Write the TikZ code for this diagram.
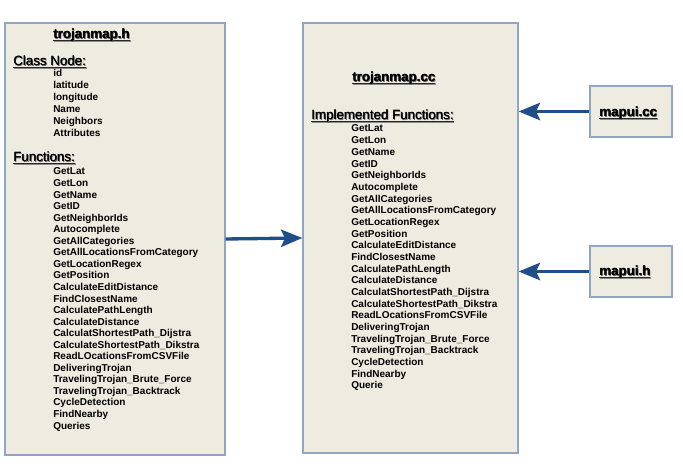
\documentclass[tikz,border=0pt]{standalone}
\usepackage{fontspec}
\setmainfont{Liberation Sans}
\usetikzlibrary{arrows.meta}
\definecolor{boxfill}{HTML}{EEEBE1}
\definecolor{boxline}{HTML}{91A6C4}
\definecolor{arrblue}{HTML}{1F4E8A}
\newlength\ulwd
\newcommand\ultxt[1]{\settowidth\ulwd{#1}%
  \makebox[0pt][l]{\hspace{0.7pt}\color{black!45}\rule[-1.9pt]{\ulwd}{0.8pt}}%
  \makebox[0pt][l]{\color{black!85}\rule[-1.4pt]{\ulwd}{0.8pt}}%
  \makebox[0pt][l]{\hspace{0.7pt}\raisebox{-0.7pt}{\color{black!60}#1}}%
  \makebox[0pt][l]{\hspace{0.25pt}#1}#1}
\begin{document}
\begin{tikzpicture}[x=0.75pt,y=-0.75pt,
  box/.style={draw=boxline,line width=1pt,fill=boxfill,inner sep=0pt},
  item/.style={anchor=base west,inner sep=0pt,font=\fontsize{7.5}{9}\selectfont\bfseries},
  heading/.style={anchor=base west,inner sep=0pt,font=\fontsize{10}{12}\selectfont},
  titletxt/.style={anchor=base west,inner sep=0pt,font=\fontsize{10}{12}\selectfont\bfseries},
  arr/.style={draw=arrblue,line width=2.5pt,-{Stealth[length=16pt,width=13pt,inset=3pt]}}]
\fill[white] (0,0) rectangle (683,473);
\useasboundingbox (0,0) rectangle (683,473);
% boxes
\node[box,minimum width=165pt,minimum height=324pt] (left) at (115,239) {};
\node[box,minimum width=161.25pt,minimum height=322.5pt] (mid) at (410.5,238) {};
\node[box,minimum width=61.5pt,minimum height=38.25pt] (cc) at (631,111.5) {};
\node[box,minimum width=61.5pt,minimum height=38.25pt] (hh) at (631,271.5) {};
% left box texts
\node[titletxt] (lt) at (53,39) {\ultxt{trojanmap.h}};
\node[heading] (lcn) at (13,66) {\ultxt{Class Node:}};
\foreach \t [count=\i] in {id,latitude,longitude,Name,Neighbors,Attributes}
  \node[item] (ln\i) at (53,{77+(\i-1)*12}) {\t};
\node[heading] (lfn) at (13,162) {\ultxt{Functions:}};
\foreach \t [count=\i] in {GetLat,GetLon,GetName,GetID,GetNeighborIds,Autocomplete,GetAllCategories,GetAllLocationsFromCategory,GetLocationRegex,GetPosition,CalculateEditDistance,FindClosestName,CalculatePathLength,CalculateDistance,CalculatShortestPath\_Dijstra,CalculateShortestPath\_Dikstra,ReadLOcationsFromCSVFile,DeliveringTrojan,TravelingTrojan\_Brute\_Force,TravelingTrojan\_Backtrack,CycleDetection,FindNearby,Queries}
  \node[item] (lf\i) at (53,{175+(\i-1)*11.55}) {\t};
% middle box texts
\node[titletxt] (mt) at (352,82) {\ultxt{trojanmap.cc}};
\node[heading] (mif) at (311,120) {\ultxt{Implemented Functions:}};
\foreach \t [count=\i] in {GetLat,GetLon,GetName,GetID,GetNeighborIds,Autocomplete,GetAllCategories,GetAllLocationsFromCategory,GetLocationRegex,GetPosition,CalculateEditDistance,FindClosestName,CalculatePathLength,CalculateDistance,CalculatShortestPath\_Dijstra,CalculateShortestPath\_Dikstra,ReadLOcationsFromCSVFile,DeliveringTrojan,TravelingTrojan\_Brute\_Force,TravelingTrojan\_Backtrack,CycleDetection,FindNearby,Querie}
  \node[item] (mf\i) at (351,{132+(\i-1)*11.68}) {\t};
% small boxes texts
\node[titletxt] (cct) at (599,117) {\ultxt{mapui.cc}};
\node[titletxt] (hht) at (599,276) {\ultxt{mapui.h}};
% arrows
\draw[arr] (left.east) -- (mid.west);
\draw[arr] (cc.west) -- (cc.west -| mid.east);
\draw[arr] (hh.west) -- (hh.west -| mid.east);
\end{tikzpicture}
\end{document}
